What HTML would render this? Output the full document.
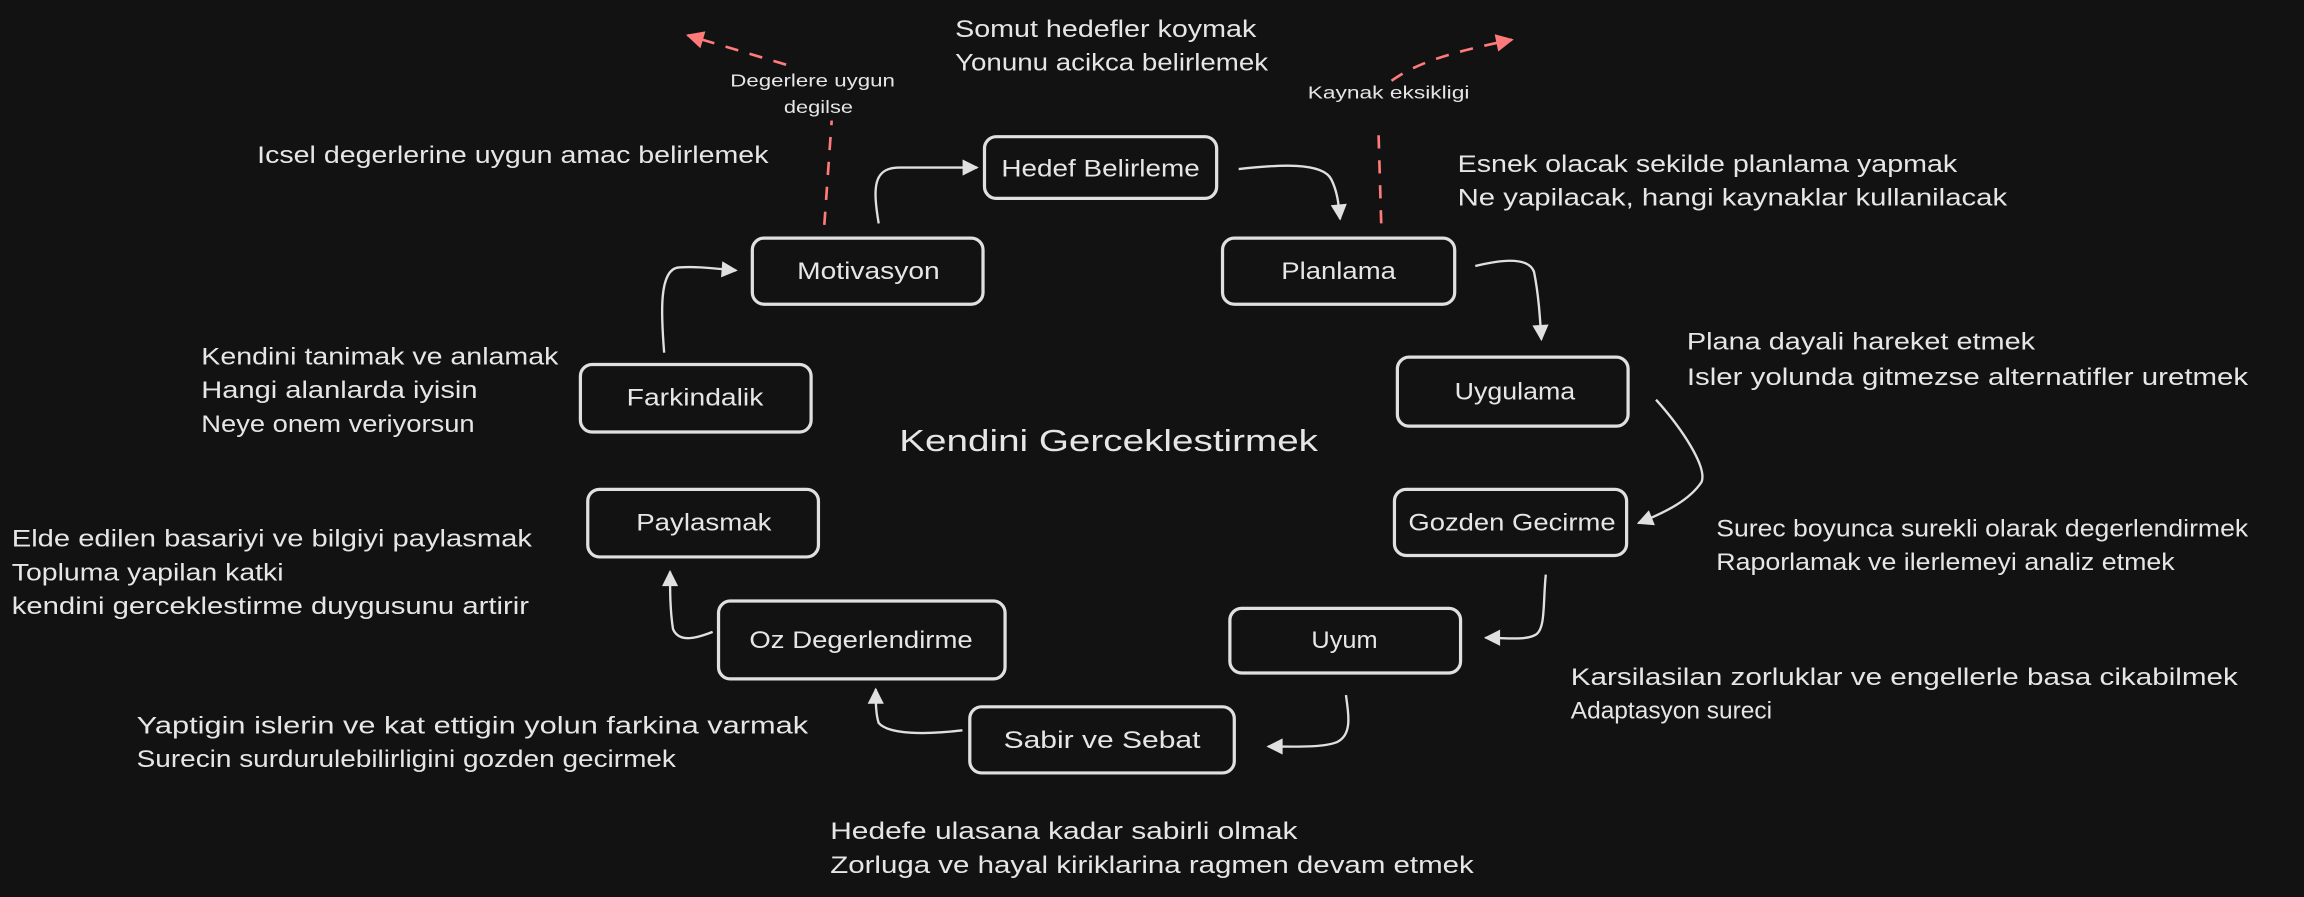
<!DOCTYPE html>
<html><head><meta charset="utf-8"><style>
html,body{margin:0;padding:0;background:#121212;}
svg{display:block}
text{font-family:"Liberation Sans",sans-serif;fill:#e6e6e6;}
.t{font-size:16.5px}
.b{font-size:16.5px}
.r{font-size:12px;fill:#ff7b7b}
</style></head><body>
<svg width="2304" height="897" viewBox="0 0 1568 610.4" xmlns="http://www.w3.org/2000/svg">
<rect width="1568" height="610.4" fill="#121212"/>
<defs>
<marker id="a" viewBox="0 0 10 10" refX="9" refY="5" markerWidth="14" markerHeight="11" markerUnits="userSpaceOnUse" orient="auto"><path d="M0,0 L10,5 L0,10 z" fill="#e0e0e0"/></marker>
<marker id="ar" viewBox="0 0 10 10" refX="9" refY="5" markerWidth="14" markerHeight="12" markerUnits="userSpaceOnUse" orient="auto"><path d="M0,0 L10,5 L0,10 z" fill="#ff7b7b"/></marker>
</defs>
<g fill="none" stroke="#e0e0e0" stroke-width="2.2">
<rect x="670" y="93" width="158" height="42" rx="8"/>
<rect x="512" y="162" width="157" height="45" rx="8"/>
<rect x="832" y="162" width="158" height="45" rx="8"/>
<rect x="395" y="248" width="157" height="46" rx="8"/>
<rect x="951" y="243" width="157" height="47" rx="8"/>
<rect x="400" y="333" width="157" height="46" rx="8"/>
<rect x="949" y="333" width="158" height="45" rx="8"/>
<rect x="489" y="409" width="195" height="53" rx="8"/>
<rect x="837" y="414" width="157" height="44" rx="8"/>
<rect x="660" y="481" width="180" height="45" rx="8"/>
</g>
<g fill="none" stroke="#e0e0e0" stroke-width="1.6" marker-end="url(#a)">
<path d="M598,152 C594,128 594,114 612,114 L665,114"/>
<path d="M843,115 C870,112 900,110 906,122 C910,130 911,138 912,149"/>
<path d="M1004,181 C1020,177 1040,174 1044,185 C1047,200 1048,215 1049,231"/>
<path d="M1127,272 C1145,292 1162,318 1158,328 C1150,340 1135,348 1115,356"/>
<path d="M1052,391 C1050,410 1052,428 1045,432 C1038,436 1025,434 1011,434"/>
<path d="M916,473 C918,488 920,500 910,505 C900,509 880,508 863,508"/>
<path d="M655,497 C630,500 605,500 598,492 C596,486 596,478 596,469"/>
<path d="M485,430 C475,434 462,438 458,428 C456,415 456,402 456,389"/>
<path d="M452,240 C450,215 448,183 462,182 C475,181 488,183 501,184"/>
</g>
<g fill="none" stroke="#ff7b7b" stroke-width="1.8" stroke-dasharray="9,8">
<path d="M561,153 L566,82"/>
<path d="M535,44 L468,24" marker-end="url(#ar)"/>
<path d="M940,152 L938,85"/>
<path d="M947,55 C965,42 990,35 1029,27" marker-end="url(#ar)"/>
</g>
<g text-anchor="middle" class="b">
<text x="749" y="120" textLength="135" lengthAdjust="spacingAndGlyphs">Hedef Belirleme</text>
<text x="591" y="190" textLength="97" lengthAdjust="spacingAndGlyphs">Motivasyon</text>
<text x="911" y="190" textLength="78" lengthAdjust="spacingAndGlyphs">Planlama</text>
<text x="473" y="276" textLength="93" lengthAdjust="spacingAndGlyphs">Farkindalik</text>
<text x="1031" y="272" textLength="82" lengthAdjust="spacingAndGlyphs">Uygulama</text>
<text x="479" y="361" textLength="92" lengthAdjust="spacingAndGlyphs">Paylasmak</text>
<text x="1029" y="361" textLength="141" lengthAdjust="spacingAndGlyphs">Gozden Gecirme</text>
<text x="586" y="441" textLength="152" lengthAdjust="spacingAndGlyphs">Oz Degerlendirme</text>
<text x="915" y="441" textLength="45" lengthAdjust="spacingAndGlyphs">Uyum</text>
<text x="750" y="509" textLength="134" lengthAdjust="spacingAndGlyphs">Sabir ve Sebat</text>
</g>
<g class="t">
<text x="650" y="25" textLength="205" lengthAdjust="spacingAndGlyphs">Somut hedefler koymak</text>
<text x="650" y="48" textLength="213" lengthAdjust="spacingAndGlyphs">Yonunu acikca belirlemek</text>
<text x="175" y="111" textLength="348" lengthAdjust="spacingAndGlyphs">Icsel degerlerine uygun amac belirlemek</text>
<text x="992" y="117" textLength="340" lengthAdjust="spacingAndGlyphs">Esnek olacak sekilde planlama yapmak</text>
<text x="992" y="140" textLength="374" lengthAdjust="spacingAndGlyphs">Ne yapilacak, hangi kaynaklar kullanilacak</text>
<text x="137" y="248" textLength="243" lengthAdjust="spacingAndGlyphs">Kendini tanimak ve anlamak</text>
<text x="137" y="271" textLength="188" lengthAdjust="spacingAndGlyphs">Hangi alanlarda iyisin</text>
<text x="137" y="294" textLength="186" lengthAdjust="spacingAndGlyphs">Neye onem veriyorsun</text>
<text x="1148" y="238" textLength="237" lengthAdjust="spacingAndGlyphs">Plana dayali hareket etmek</text>
<text x="1148" y="262" textLength="382" lengthAdjust="spacingAndGlyphs">Isler yolunda gitmezse alternatifler uretmek</text>
<text x="612" y="307" textLength="285" lengthAdjust="spacingAndGlyphs" style="font-size:21px">Kendini Gerceklestirmek</text>
<text x="8" y="372" textLength="354" lengthAdjust="spacingAndGlyphs">Elde edilen basariyi ve bilgiyi paylasmak</text>
<text x="8" y="395" textLength="185" lengthAdjust="spacingAndGlyphs">Topluma yapilan katki</text>
<text x="8" y="418" textLength="352" lengthAdjust="spacingAndGlyphs">kendini gerceklestirme duygusunu artirir</text>
<text x="1168" y="365" textLength="362" lengthAdjust="spacingAndGlyphs">Surec boyunca surekli olarak degerlendirmek</text>
<text x="1168" y="388" textLength="312" lengthAdjust="spacingAndGlyphs">Raporlamak ve ilerlemeyi analiz etmek</text>
<text x="1069" y="466" textLength="454" lengthAdjust="spacingAndGlyphs">Karsilasilan zorluklar ve engellerle basa cikabilmek</text>
<text x="1069" y="489" textLength="137" lengthAdjust="spacingAndGlyphs">Adaptasyon sureci</text>
<text x="93" y="499" textLength="457" lengthAdjust="spacingAndGlyphs">Yaptigin islerin ve kat ettigin yolun farkina varmak</text>
<text x="93" y="522" textLength="367" lengthAdjust="spacingAndGlyphs">Surecin surdurulebilirligini gozden gecirmek</text>
<text x="565" y="571" textLength="318" lengthAdjust="spacingAndGlyphs">Hedefe ulasana kadar sabirli olmak</text>
<text x="565" y="594" textLength="438" lengthAdjust="spacingAndGlyphs">Zorluga ve hayal kiriklarina ragmen devam etmek</text>
</g>
<g class="r" text-anchor="middle">
<text x="553" y="59" textLength="112" lengthAdjust="spacingAndGlyphs">Degerlere uygun</text>
<text x="557" y="77" textLength="47" lengthAdjust="spacingAndGlyphs">degilse</text>
<text x="945" y="67" textLength="110" lengthAdjust="spacingAndGlyphs">Kaynak eksikligi</text>
</g>
</svg>
</body></html>
